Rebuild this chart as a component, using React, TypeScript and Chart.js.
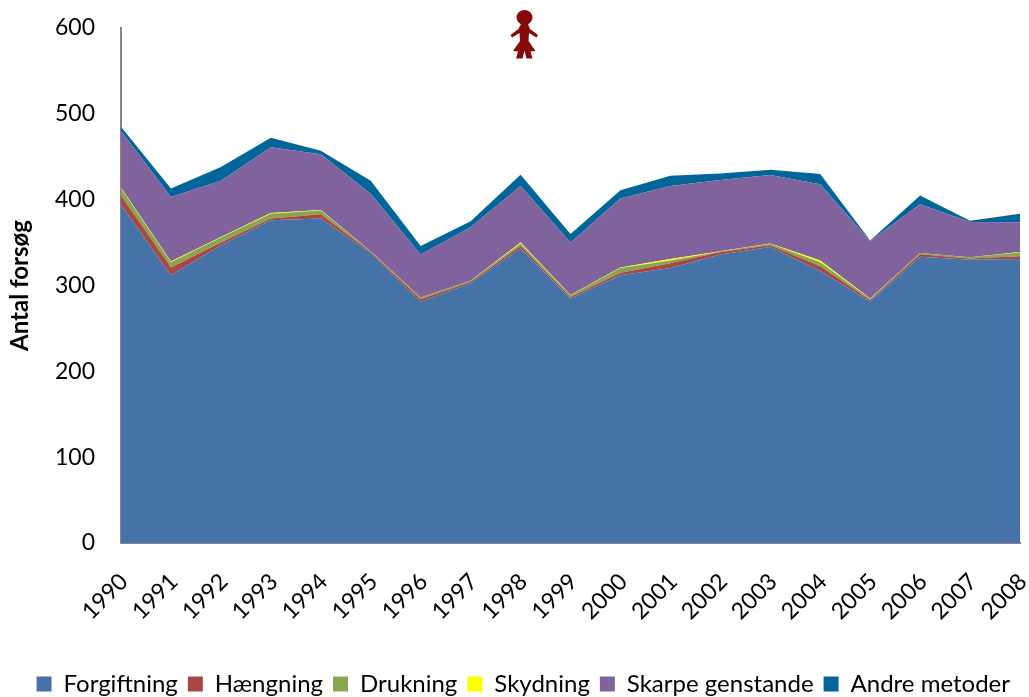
import React, { useEffect, useRef } from "react";
import { Chart, registerables } from "chart.js";

Chart.register(...registerables);

const years = ["1990","1991","1992","1993","1994","1995","1996","1997","1998","1999","2000","2001","2002","2003","2004","2005","2006","2007","2008"];
const forgiftning = [394,312,347,376,378,337.5,281,302.5,343,285,312,320.5,336,345,317,281.5,333.5,330,331];
const haengning = [11,9,3,2,5,1.5,3,2,3,1.5,3,5.5,3,2,5.5,1.5,3,1.5,3];
const drukning = [8,6,6,5.5,4.5,1,2,1,3,2,5.5,3,0.5,1.5,4.5,1.5,1.5,1.3,4.5];
const skydning = [1,1,0.5,1,0.5,0,0,0,1,0.5,0.5,2,0.5,0.5,2,0.3,0,0.2,0.5];
const skarpe = [66,75,65.5,76.5,65,67,50,62.5,66,61,80.5,85,83,79.7,89,67,56.6,41,34.6];
const andre = [5,10,16,11,4,15,10,7,13,10,9.5,12,7.5,6.3,12,0.5,10.4,1.5,10];

const seriesDefs = [
  { label: "Forgiftning", data: forgiftning, color: "#4572A7", fill: "origin" },
  { label: "Hængning", data: haengning, color: "#AA4643", fill: "-1" },
  { label: "Drukning", data: drukning, color: "#89A54E", fill: "-1" },
  { label: "Skydning", data: skydning, color: "#FFFF00", fill: "-1" },
  { label: "Skarpe genstande", data: skarpe, color: "#80639C", fill: "-1" },
  { label: "Andre metoder", data: andre, color: "#006699", fill: "-1" },
];

const FONT = "Lato, Carlito, Calibri, sans-serif";

export default function App() {
  const ref = useRef<HTMLCanvasElement>(null);
  useEffect(() => {
    const chart = new Chart(ref.current!, {
      type: "line",
      data: {
        labels: years,
        datasets: seriesDefs.map((s) => ({
          label: s.label,
          data: s.data,
          fill: s.fill,
          backgroundColor: s.color,
          borderColor: s.color,
          borderWidth: 0,
          pointRadius: 0,
          tension: 0,
        })),
      },
      options: {
        responsive: false,
        animation: false,
        layout: { padding: { top: 28, right: 9, bottom: -9, left: 0 } },
        plugins: {
          tooltip: { enabled: false },
          legend: {
            position: "bottom",
            align: "end",
            labels: {
              boxWidth: 15,
              boxHeight: 15,
              padding: 10,
              color: "#000",
              font: { family: FONT, size: 24 },
            },
          },
        },
        scales: {
          x: {
            stacked: true,
            offset: false,
            grid: { display: false, drawTicks: false },
            border: { color: "#868686", width: 2 },
            ticks: { color: "#000", font: { family: FONT, size: 23 }, minRotation: 45, maxRotation: 45, padding: 25, labelOffset: 3, autoSkip: false },
            afterFit: (scale: any) => { scale.height = 119; scale.paddingLeft = 0; scale.paddingRight = 0; },
          },
          y: {
            stacked: true,
            min: 0,
            max: 600,
            grid: { display: false, drawTicks: false },
            border: { color: "#868686", width: 2 },
            ticks: { stepSize: 100, color: "#000", font: { family: FONT, size: 23 }, padding: 26 },
            title: { display: true, text: "Antal forsøg", color: "#000", font: { family: FONT, size: 24, weight: "bold" }, padding: { top: 6, bottom: 0 } },
            afterFit: (scale: any) => { scale.width = 121; scale.paddingTop = 0; scale.paddingBottom = 0; },
          },
        },
      },
    });
    return () => chart.destroy();
  }, []);
  return (
    <div style={{ position: "fixed", left: 0, top: 0, width: 1029, height: 697, background: "#fff" }}>
      <canvas ref={ref} width={1029} height={697} style={{ display: "block" }} />
      <svg width={30} height={50} viewBox="0 0 30 50" style={{ position: "absolute", left: 509, top: 9 }} fill="#870A0A">
        <ellipse cx={15.5} cy={8.5} rx={8} ry={7.5} />
        <path d="M12 15h7l2 5 8 6-1.5 2.5L20 24l-.5 8 7 10-5 .5 2 7h-6l-2-8-2 8H7l2-7-5-.5 7-10-.5-8-7.5 4.5L1.5 26l8-6z" />
      </svg>
    </div>
  );
}
